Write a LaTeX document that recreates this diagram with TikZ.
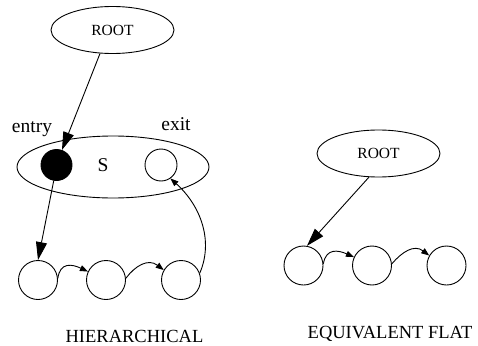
\documentclass[tikz,border=0pt]{standalone}
\usepackage{fontspec}
\setmainfont{Liberation Serif}
\usetikzlibrary{arrows.meta,shapes.geometric}
\begin{document}
\begin{tikzpicture}[x=1pt,y=-1pt,line width=0.9pt,
  oval/.style={draw,ellipse,minimum width=123pt,minimum height=47pt,inner sep=0pt,font=\fontsize{15.5}{17}\selectfont},
  state/.style={draw,circle,minimum size=39pt,inner sep=0pt},
  bigtip/.style={-{Triangle[length=18pt,width=11pt]}},
  smalltip/.style={-{Triangle[length=8pt,width=6pt]}},
  lbl/.style={font=\fontsize{19.5}{21}\selectfont,inner sep=0pt},
  captext/.style={font=\fontsize{18.5}{20}\selectfont,inner sep=0pt}]
\useasboundingbox (0,0) rectangle (478,345);
% hierarchical
\node[oval] (root1) at (112.5,30) {ROOT};
\node[draw,ellipse,minimum width=192pt,minimum height=62pt,inner sep=0pt] (S) at (113,167) {};
\node[lbl] (slbl) at (103,165) {S};
\node[draw,circle,fill=black,minimum size=31pt,inner sep=0pt] (entry) at (56.5,165) {};
\node[draw,circle,minimum size=32pt,inner sep=0pt] (exit) at (161,165) {};
\node[lbl] (entrylbl) at (32,129) {entry};
\node[lbl] (exitlbl) at (176,124) {exit};
\node[state] (h1) at (38,280) {};
\node[state] (h2) at (106,280) {};
\node[state] (h3) at (181,280) {};
\node[captext] (hcap) at (134.5,336) {HIERARCHICAL};
\draw[bigtip] (root1.-118) -- (entry.70);
\draw[bigtip] (entry.-100) -- (h1.90);
\draw[smalltip] (h1.5) .. controls (60,262) and (72,264) .. (h2.155);
\draw[smalltip] (h2.5) .. controls (135,266) and (148,258) .. (h3.150);
\draw[smalltip] (h3.20) .. controls (214,240) and (200,205) .. (exit.-55);
% flat
\node[oval] (root2) at (378.5,153.5) {ROOT};
\node[state] (f1) at (303.5,265.5) {};
\node[state] (f2) at (372,265.5) {};
\node[state] (f3) at (446.5,265.5) {};
\node[captext] (fcap) at (390,334) {EQUIVALENT FLAT};
\draw[bigtip] (root2.-112) -- (f1.80);
\draw[smalltip] (f1.5) .. controls (326,248) and (338,250) .. (f2.155);
\draw[smalltip] (f2.5) .. controls (402,252) and (414,244) .. (f3.150);
\end{tikzpicture}
\end{document}
